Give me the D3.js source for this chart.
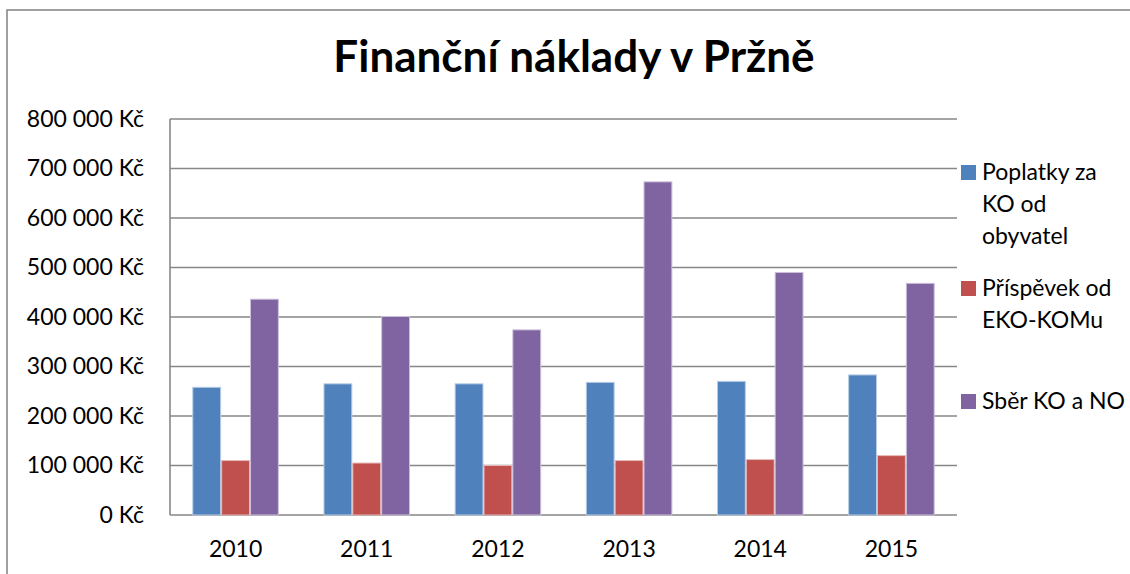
<!DOCTYPE html>
<html>
<head>
<meta charset="utf-8">
<script src="https://cdnjs.cloudflare.com/ajax/libs/d3/7.8.5/d3.min.js"></script>
<style>
  body { margin: 0; background: #fff; }
  svg { display: block; font-family: Lato, "Open Sans", sans-serif; }
  .axis text { font-family: Lato, "Open Sans", sans-serif; font-size: 23px; fill: #000; }
  .axis .domain { display: none; }
  .grid line { stroke: #878787; stroke-width: 1.6; }
  .title { font-size: 44px; font-weight: bold; }
  .legend text { font-size: 23px; }
</style>
</head>
<body>
<script>
// chart data
var years = ["2010", "2011", "2012", "2013", "2014", "2015"];
var seriesNames = ["Poplatky za KO od obyvatel", "Příspěvek od EKO-KOMu", "Sběr KO a NO"];
var poplatky = [258000, 265000, 265000, 268000, 270000, 283000];
var prispevek = [110000, 105000, 100000, 110000, 112000, 120000];
var sber = [436000, 401000, 374000, 673000, 490000, 468000];
var yTicks = [0, 100000, 200000, 300000, 400000, 500000, 600000, 700000, 800000];
var colors = ["#4F81BD", "#C0504D", "#8064A2"];
var edgeColors = ["#b9cde5", "#e6b9b8", "#ccc1da"];
var legendLines = [["Poplatky za", "KO od", "obyvatel"], ["Příspěvek od", "EKO-KOMu"], ["Sběr KO a NO"]];

var width = 1130, height = 574;
var margin = {left: 170, right: 173, top: 119, bottom: 59};
var innerW = width - margin.left - margin.right;
var innerH = height - margin.top - margin.bottom;

var cz = d3.formatLocale({decimal: ",", thousands: "\u00a0", grouping: [3], currency: ["", " Kč"]});
var fmt = cz.format("$,");

var svg = d3.select("body").append("svg")
    .attr("width", width).attr("height", height);

// outer chart border
svg.append("rect")
    .attr("x", 7).attr("y", 10)
    .attr("width", width).attr("height", height)
    .attr("fill", "none").attr("stroke", "#898989").attr("stroke-width", 1.6);

svg.append("text")
    .attr("class", "title")
    .attr("x", 574).attr("y", 72)
    .attr("text-anchor", "middle")
    .text("Finanční náklady v Pržně");

var chartGroup = svg.append("g")
    .attr("transform", "translate(" + margin.left + "," + margin.top + ")");

var y = d3.scaleLinear().domain([0, 800000]).range([innerH, 0]);
var x0 = d3.scaleBand().domain(years).range([0, innerW]).paddingInner(0.34).paddingOuter(0.17);
var x1 = d3.scaleBand().domain(d3.range(3)).range([0, x0.bandwidth()]);

// grid lines
chartGroup.append("g").attr("class", "grid")
    .selectAll("line").data(yTicks).enter().append("line")
    .attr("x1", 0).attr("x2", innerW)
    .attr("y1", function(d){ return y(d); })
    .attr("y2", function(d){ return y(d); });

chartGroup.append("line")
    .attr("x1", 0).attr("x2", 0).attr("y1", 0).attr("y2", innerH)
    .attr("stroke", "#878787").attr("stroke-width", 1.6);

var yAxis = d3.axisLeft(y).tickValues(yTicks).tickSize(0).tickPadding(26).tickFormat(fmt);
chartGroup.append("g").attr("class", "axis").call(yAxis);

var xAxis = d3.axisBottom(x0).tickSize(0).tickPadding(26);
chartGroup.append("g").attr("class", "axis")
    .attr("transform", "translate(0," + innerH + ")").call(xAxis);

var values = [poplatky, prispevek, sber];
var table = years.map(function(yr, i){
  return {year: yr, vals: values.map(function(s){ return s[i]; })};
});

var groups = chartGroup.selectAll(".year").data(table).enter().append("g")
    .attr("transform", function(d){ return "translate(" + x0(d.year) + ",0)"; });

groups.selectAll("rect").data(function(d){ return d.vals; }).enter().append("rect")
    .attr("x", function(d, i){ return x1(i) + 0.5; })
    .attr("width", x1.bandwidth() - 1)
    .attr("y", function(d){ return y(d); })
    .attr("height", function(d){ return innerH - y(d); })
    .attr("fill", function(d, i){ return colors[i]; })
    .attr("stroke", function(d, i){ return edgeColors[i]; })
    .attr("stroke-width", 1);

// legend
var legendY = [180, 296, 409];
var legend = svg.append("g").attr("class", "legend");
legendLines.forEach(function(lines, i){
  legend.append("rect")
      .attr("x", 961).attr("y", legendY[i] - 15)
      .attr("width", 15).attr("height", 15)
      .attr("fill", colors[i]);
  lines.forEach(function(t, j){
    legend.append("text")
        .attr("x", 982).attr("y", legendY[i] + j * 32)
        .text(t);
  });
});
</script>
</body>
</html>
